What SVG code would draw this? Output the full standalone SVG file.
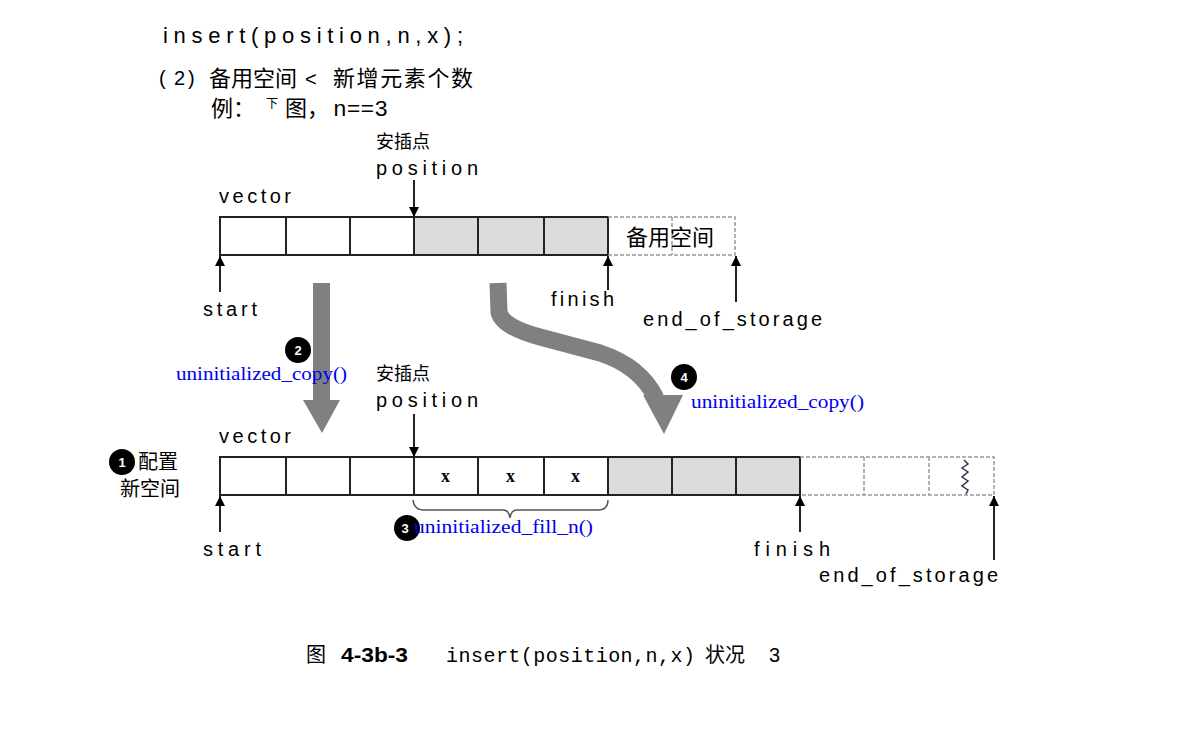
<svg xmlns="http://www.w3.org/2000/svg" width="1200" height="732" viewBox="0 0 1200 732">
<style>
.sans{font-family:"Liberation Sans","Noto Sans CJK SC",sans-serif;fill:#000}
.cjk{font-family:"Noto Sans CJK SC","Liberation Sans",sans-serif;fill:#000}
.mono{font-family:"Liberation Mono","Noto Sans CJK SC",monospace;fill:#000}
.blue{font-family:"Liberation Serif",serif;fill:#0000ee;font-size:19px}
.cell{fill:#fff;stroke:#222;stroke-width:2}
.shade{fill:#dcdcdc;stroke:#222;stroke-width:2}
.dash{fill:none;stroke:#999;stroke-width:1.5;stroke-dasharray:4 2}
.ptr{stroke:#222;stroke-width:2;fill:none;marker-end:url(#ah)}
.big{fill:#808080}
.num{font-family:"Liberation Sans",sans-serif;font-weight:bold;font-size:13px;fill:#fff}
.x{font-family:"Liberation Serif",serif;font-weight:bold;font-size:18px;fill:#000}
</style>
<defs>
<marker id="ah" viewBox="0 0 10 10" refX="10" refY="5" markerWidth="5" markerHeight="5" markerUnits="strokeWidth" orient="auto">
<path d="M0 0 L10 5 L0 10 Z" fill="#000"/>
</marker>
</defs>
<rect width="1200" height="732" fill="#fff"/>

<g id="header">
<text class="sans" x="163" y="43" font-size="22" textLength="300" lengthAdjust="spacing">insert(position,n,x);</text>
<text class="sans" x="159" y="85" font-size="20">(</text>
<text class="sans" x="174" y="85" font-size="20">2</text>
<text class="sans" x="188" y="85" font-size="20">)</text>
<text class="cjk" x="209" y="86" font-size="22">备用空间</text>
<text class="sans" x="305" y="86" font-size="20">&lt;</text>
<text class="cjk" x="333" y="86" font-size="22" textLength="140" lengthAdjust="spacing">新增元素个数</text>
<text class="cjk" x="211" y="116" font-size="22">例：</text>
<text class="cjk" x="266" y="108" font-size="12">下</text>
<text class="cjk" x="285" y="116" font-size="22">图，</text>
<text class="mono" x="333" y="116" font-size="22" textLength="55" lengthAdjust="spacingAndGlyphs">n==3</text>
</g>

<g id="top-vector">
<text class="sans" x="219" y="203" font-size="20" textLength="72" lengthAdjust="spacing">vector</text>
<rect class="cell" x="220" y="217" width="66" height="38"/>
<rect class="cell" x="286" y="217" width="64" height="38"/>
<rect class="cell" x="350" y="217" width="64" height="38"/>
<rect class="shade" x="414" y="217" width="64" height="38"/>
<rect class="shade" x="478" y="217" width="66" height="38"/>
<rect class="shade" x="544" y="217" width="64" height="38"/>
<path class="dash" d="M608 217 H735 V255 H608 M672 217 V255"/>
<text class="cjk" x="626" y="245" font-size="22">备用空间</text>
</g>

<g id="top-pointers">
<text class="cjk" x="376" y="148" font-size="18">安插点</text>
<text class="sans" x="376" y="175" font-size="20" textLength="102" lengthAdjust="spacing">position</text>
<line class="ptr" x1="414" y1="180" x2="414" y2="217"/>
<line class="ptr" x1="220" y1="292" x2="220" y2="256"/>
<text class="sans" x="203" y="316" font-size="20" textLength="54" lengthAdjust="spacing">start</text>
<line class="ptr" x1="608" y1="290" x2="608" y2="256"/>
<text class="sans" x="551" y="306" font-size="20" textLength="63" lengthAdjust="spacing">finish</text>
<line class="ptr" x1="736" y1="302" x2="736" y2="256"/>
<text class="sans" x="643" y="326" font-size="20" textLength="179" lengthAdjust="spacing">end_of_storage</text>
</g>

<g id="connectors">
<path class="big" d="M313 283 H330 V400 H340 L322 433 L303 400 H313 Z"/>
<path d="M498 283 L499 312 Q502 327 540 337 L600 353 Q640 366 656 398" fill="none" stroke="#808080" stroke-width="17"/>
<path class="big" d="M643 395 H683 L664 434 Z"/>
<path d="M413 500 Q414 510 424 510 H503 Q509 510 510 518 Q511 510 517 510 H598 Q608 510 608 500" fill="none" stroke="#555" stroke-width="1.5"/>
</g>

<g id="step2">
<circle cx="298" cy="350" r="13" fill="#000"/>
<text class="num" x="298" y="355" text-anchor="middle">2</text>
<text class="blue" x="176" y="380" textLength="171" lengthAdjust="spacingAndGlyphs">uninitialized_copy()</text>
</g>

<g id="step4">
<circle cx="684" cy="377" r="13" fill="#000"/>
<text class="num" x="684" y="382" text-anchor="middle">4</text>
<text class="blue" x="691" y="408" textLength="173" lengthAdjust="spacingAndGlyphs">uninitialized_copy()</text>
</g>

<g id="bottom-vector">
<text class="cjk" x="376" y="380" font-size="18">安插点</text>
<text class="sans" x="376" y="407" font-size="20" textLength="102" lengthAdjust="spacing">position</text>
<text class="sans" x="219" y="443" font-size="20" textLength="72" lengthAdjust="spacing">vector</text>
<rect class="cell" x="220" y="457" width="66" height="38"/>
<rect class="cell" x="286" y="457" width="64" height="38"/>
<rect class="cell" x="350" y="457" width="64" height="38"/>
<rect class="cell" x="414" y="457" width="64" height="38"/>
<rect class="cell" x="478" y="457" width="66" height="38"/>
<rect class="cell" x="544" y="457" width="64" height="38"/>
<rect class="shade" x="608" y="457" width="64" height="38"/>
<rect class="shade" x="672" y="457" width="64" height="38"/>
<rect class="shade" x="736" y="457" width="64" height="38"/>
<path class="dash" d="M800 457 H994 V495 H800 M864 457 V495 M929 457 V495"/>
<path d="M964 460 L968 464 L962 468 L968 472 L962 477 L968 481 L962 486 L968 490 L966 494" fill="none" stroke="#2a3550" stroke-width="1.5"/>
<text class="x" x="441" y="482">x</text>
<text class="x" x="506" y="482">x</text>
<text class="x" x="571" y="482">x</text>
</g>

<g id="bottom-pointers">
<line class="ptr" x1="414" y1="414" x2="414" y2="457"/>
<line class="ptr" x1="220" y1="532" x2="220" y2="496"/>
<text class="sans" x="203" y="556" font-size="20" textLength="58" lengthAdjust="spacing">start</text>
<line class="ptr" x1="800" y1="532" x2="800" y2="496"/>
<text class="sans" x="754" y="556" font-size="20" textLength="76" lengthAdjust="spacing">finish</text>
<line class="ptr" x1="994" y1="560" x2="994" y2="496"/>
<text class="sans" x="819" y="582" font-size="20" textLength="179" lengthAdjust="spacing">end_of_storage</text>
</g>

<g id="step1">
<circle cx="122" cy="462" r="13" fill="#000"/>
<text class="num" x="122" y="467" text-anchor="middle">1</text>
<text class="cjk" x="138" y="469" font-size="20">配置</text>
<text class="cjk" x="120" y="496" font-size="20">新空间</text>
</g>

<g id="step3">
<circle cx="407" cy="528" r="13" fill="#000"/>
<text class="num" x="405" y="533" text-anchor="middle">3</text>
<text class="blue" x="414" y="533" textLength="179" lengthAdjust="spacingAndGlyphs">uninitialized_fill_n()</text>
</g>

<g id="caption">
<text class="cjk" x="306" y="662" font-size="20">图</text>
<text class="sans" x="341" y="662" font-size="20" font-weight="bold" textLength="67" lengthAdjust="spacingAndGlyphs">4-3b-3</text>
<text class="mono" x="446" y="662" font-size="20" textLength="249" lengthAdjust="spacing">insert(position,n,x)</text>
<text class="cjk" x="705" y="662" font-size="20">状况</text>
<text class="sans" x="769" y="662" font-size="20">3</text>
</g>
</svg>
